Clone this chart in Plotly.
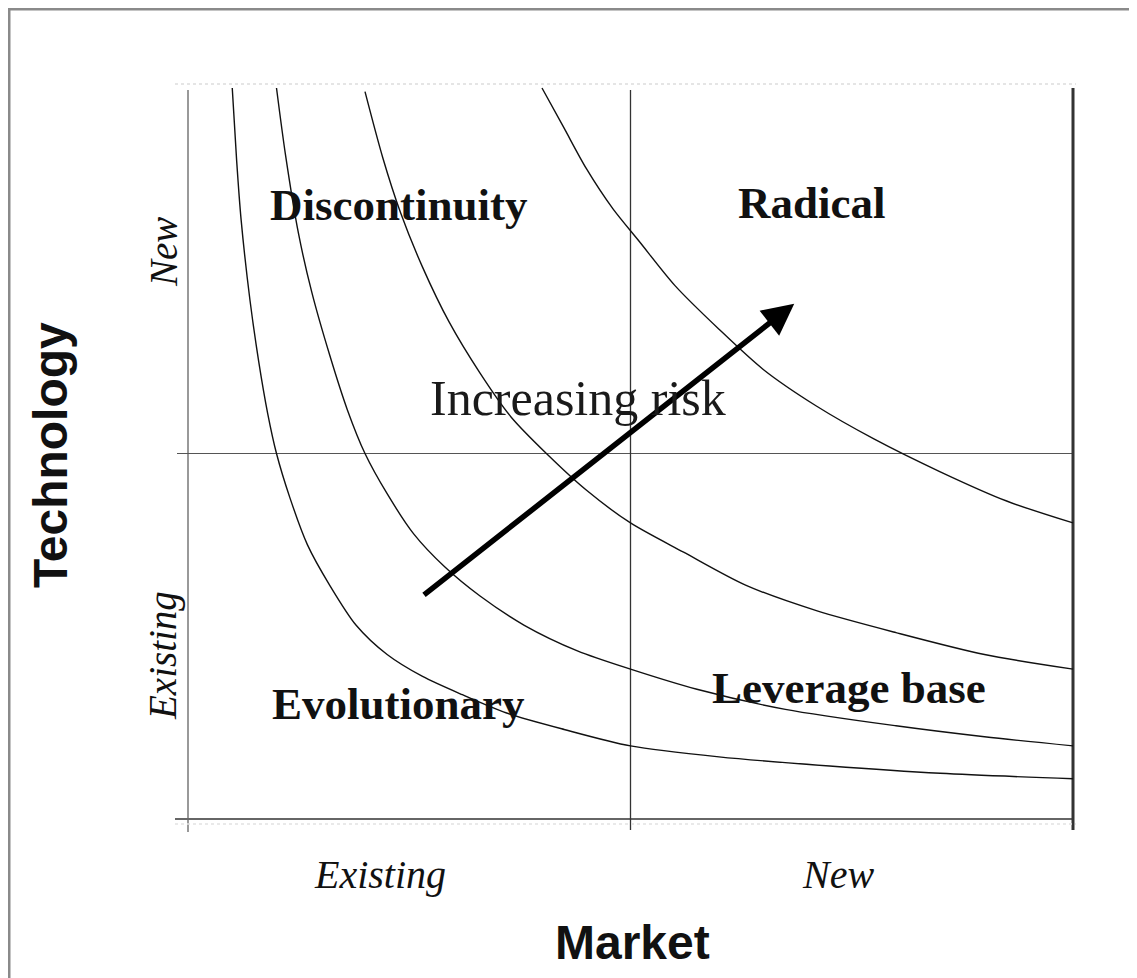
import plotly.graph_objects as go

# risk curves, in quadrant units (0-1 = existing, 1-2 = new)
curve_a_x = [0.10, 0.11, 0.12, 0.14, 0.16, 0.18, 0.20, 0.23, 0.27, 0.32, 0.38, 0.45, 0.53, 0.62, 0.72, 0.85, 1.00, 1.20, 1.45, 1.70, 2.00]
curve_a_y = [2.00, 1.80, 1.64, 1.42, 1.25, 1.11, 1.00, 0.88, 0.75, 0.64, 0.53, 0.45, 0.39, 0.34, 0.29, 0.245, 0.20, 0.17, 0.145, 0.125, 0.11]
curve_b_x = [0.20, 0.22, 0.25, 0.28, 0.32, 0.36, 0.40, 0.45, 0.51, 0.58, 0.66, 0.76, 0.88, 1.00, 1.15, 1.35, 1.60, 1.80, 2.00]
curve_b_y = [2.00, 1.82, 1.60, 1.44, 1.27, 1.12, 1.00, 0.89, 0.78, 0.69, 0.61, 0.53, 0.46, 0.41, 0.355, 0.30, 0.255, 0.225, 0.20]
curve_c_x = [0.40, 0.44, 0.48, 0.53, 0.59, 0.66, 0.73, 0.81, 0.90, 1.00, 1.12, 1.26, 1.42, 1.60, 1.80, 2.00]
curve_c_y = [1.99, 1.81, 1.66, 1.51, 1.36, 1.22, 1.10, 1.00, 0.90, 0.81, 0.73, 0.64, 0.57, 0.51, 0.45, 0.41]
curve_d_x = [0.80, 0.85, 0.90, 0.96, 1.02, 1.10, 1.20, 1.30, 1.42, 1.55, 1.70, 1.85, 2.00]
curve_d_y = [2.00, 1.89, 1.78, 1.67, 1.58, 1.46, 1.34, 1.23, 1.13, 1.04, 0.95, 0.87, 0.81]

quadrant_labels = ["Discontinuity", "Radical", "Evolutionary", "Leverage base"]
market_ticks = ["Existing", "New"]
tech_ticks = ["Existing", "New"]
arrow_label = "Increasing risk"
x_title = "Market"
y_title = "Technology"

# arrow tail -> head, quadrant units
arrow_x = [0.53, 1.37]
arrow_y = [0.61, 1.41]

W, H = 1137, 978
OFF = 8               # page body margin
X0, SX = 188, 442.5   # pixel of x=0, pixels per unit
Y0, SY = 819, 365.5   # pixel of y=0, pixels per unit


def ux(px):
    return (px - X0) / SX


def uy(py):
    return (Y0 - py) / SY


SERIF = "Liberation Serif, Times New Roman, serif"
SANS = "Liberation Sans, Arial, sans-serif"

fig = go.Figure()
for cx, cy in [(curve_a_x, curve_a_y), (curve_b_x, curve_b_y),
               (curve_c_x, curve_c_y), (curve_d_x, curve_d_y)]:
    fig.add_trace(go.Scatter(x=cx, y=cy, mode="lines",
                             line=dict(color="#111", width=1.4, shape="spline", smoothing=0.8),
                             hoverinfo="skip", showlegend=False))


def seg(x0, y0, x1, y1, color, width, dash="solid"):
    fig.add_shape(type="line", x0=x0, y0=y0, x1=x1, y1=y1,
                  line=dict(color=color, width=width, dash=dash), layer="below")


# quadrant frame
seg(0, uy(90), 0, uy(832), "#777", 1.5)
seg(ux(175), 0, 2, 0, "#666", 2)
seg(ux(177), 1, 2, 1, "#555", 1.1)
seg(1, uy(90), 1, uy(830), "#333", 1.3)
seg(2, uy(88), 2, uy(830), "#333", 3)
seg(ux(175), uy(84), ux(1076), uy(84), "#ddd", 1.5, "dot")
seg(ux(175), uy(824), ux(1076), uy(824), "#e2e2e2", 1.5, "dot")
# picture border (top and left)
seg(ux(9), uy(9), ux(1137), uy(9), "#8a8a8a", 3)
seg(ux(9), uy(8), ux(9), uy(978), "#8a8a8a", 3)

fig.add_annotation(x=arrow_x[1], y=arrow_y[1], ax=arrow_x[0], ay=arrow_y[0],
                   xref="x", yref="y", axref="x", ayref="y", text="",
                   showarrow=True, arrowhead=2, arrowwidth=5.5, arrowsize=1.15,
                   arrowcolor="#000")

bold_serif = dict(family=SERIF, size=45, color="#111")
q_pos = [(399, 205), (812, 203), (398, 704), (849, 688)]
for lab, (px, py) in zip(quadrant_labels, q_pos):
    fig.add_annotation(x=ux(px), y=uy(py), text="<b>" + lab + "</b>", showarrow=False,
                       font=bold_serif, xanchor="center", yanchor="middle")

fig.add_annotation(x=ux(578), y=uy(398), text=arrow_label, showarrow=False,
                   font=dict(family=SERIF, size=50, color="#1a1a1a"),
                   xanchor="center", yanchor="middle")

ital = dict(family=SERIF, size=40, color="#111", style="italic")
for lab, px in zip(market_ticks, [380, 838]):
    fig.add_annotation(x=ux(px), y=uy(874), text=lab, showarrow=False, font=ital,
                       xanchor="center", yanchor="middle")
ital_left = dict(family=SERIF, size=39, color="#111", style="italic")
for lab, py in zip(tech_ticks, [656, 252]):
    fig.add_annotation(x=ux(163), y=uy(py), text=lab, showarrow=False, font=ital_left,
                       textangle=-90, xanchor="center", yanchor="middle")

fig.add_annotation(x=ux(632), y=uy(942), text="<b>" + x_title + "</b>", showarrow=False,
                   font=dict(family=SANS, size=48, color="#111"),
                   xanchor="center", yanchor="middle")
fig.add_annotation(x=ux(50), y=uy(455), text="<b>" + y_title + "</b>", showarrow=False,
                   font=dict(family=SANS, size=48, color="#111"), textangle=-90,
                   xanchor="center", yanchor="middle")

# the page body has an 8px margin, so the figure is drawn from (8, 8)
fig.update_layout(
    width=W - OFF, height=H - OFF,
    margin=dict(l=0, r=0, t=0, b=0, pad=0),
    paper_bgcolor="white", plot_bgcolor="white",
    xaxis=dict(range=[ux(OFF), ux(W)], visible=False, fixedrange=True),
    yaxis=dict(range=[uy(H), uy(OFF)], visible=False, fixedrange=True),
    showlegend=False,
)

fig.write_html("out.html")
